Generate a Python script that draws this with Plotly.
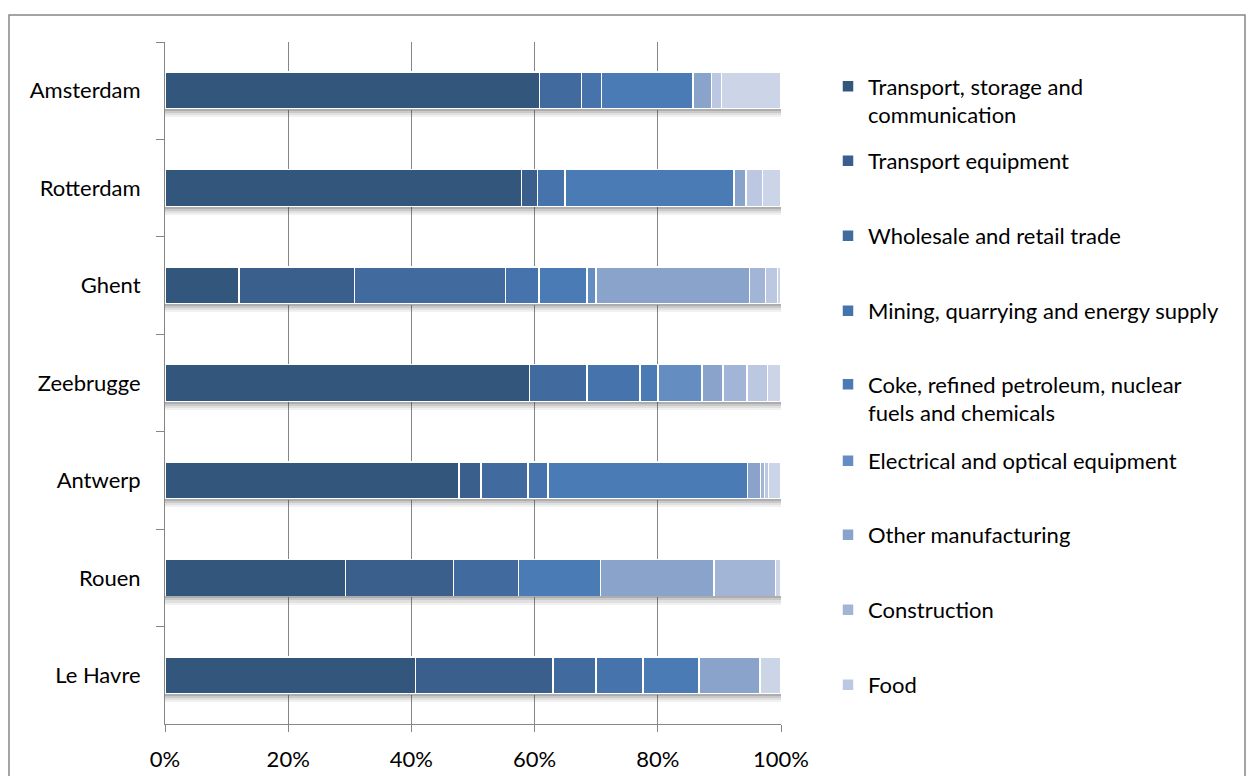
import plotly.graph_objects as go

# Ports, listed top to bottom
cities = ["Amsterdam", "Rotterdam", "Ghent", "Zeebrugge", "Antwerp", "Rouen", "Le Havre"]

# Share of each sector (%) per port, same order as cities
transport_storage = [60.8, 57.9, 12.0, 59.2, 47.7, 29.3, 40.7]
transport_equipment = [0.0, 2.6, 18.8, 0.0, 3.6, 17.5, 22.3]
wholesale_retail = [6.8, 0.0, 24.5, 9.3, 7.6, 10.6, 7.0]
mining_energy = [3.3, 4.4, 5.4, 8.6, 3.3, 0.0, 7.6]
coke_chemicals = [14.8, 27.5, 7.8, 2.9, 32.4, 13.3, 9.1]
electrical_optical = [0.0, 0.0, 1.5, 7.2, 0.0, 0.0, 0.0]
other_manufacturing = [3.0, 1.9, 24.9, 3.4, 2.1, 18.4, 9.9]
construction = [0.0, 0.0, 2.6, 3.9, 0.6, 10.0, 0.0]
food = [1.6, 2.7, 1.9, 3.3, 0.7, 0.0, 0.0]
other_sectors = [9.7, 3.0, 0.6, 2.2, 2.0, 0.9, 3.4]

series_names = [
    "Transport, storage and<br>communication",
    "Transport equipment",
    "Wholesale and retail trade",
    "Mining, quarrying and energy supply",
    "Coke, refined petroleum, nuclear<br>fuels and chemicals",
    "Electrical and optical equipment",
    "Other manufacturing",
    "Construction",
    "Food",
    "Other",
]
series_values = [
    transport_storage, transport_equipment, wholesale_retail, mining_energy,
    coke_chemicals, electrical_optical, other_manufacturing, construction,
    food, other_sectors,
]
colors = ["#33567d", "#3a5f8c", "#416b9f", "#4673ab", "#4a7bb5",
          "#648dc2", "#8aa3cb", "#a3b5d7", "#bcc8e1", "#ccd5e8"]

W, H = 1248, 776
L, R, T, B = 165, 467, 42, 52
PW, PH = W - L - R, H - T - B
BAR_W = 0.38
FONT = "Lato"
GREY = "#868686"


def px_x(px):
    return (px - L) / PW


def px_y(py):
    return (H - B - py) / PH


fig = go.Figure()

# Soft drop shadow under each bar, drawn on overlaid axes so it doesn't stack
totals = [sum(v[i] for v in series_values) for i in range(len(cities))]
shadow_alpha = [0.42, 0.28, 0.16, 0.07]
for k, a in enumerate(shadow_alpha):
    fig.add_trace(go.Bar(
        y=cities, x=totals, orientation="h", yaxis=f"y{k + 2}",
        width=0.021, offset=BAR_W / 2 + 0.021 * k,
        marker=dict(color=f"rgba(60,60,60,{a})", line=dict(width=0)),
        showlegend=False, hoverinfo="skip",
    ))

legend_mid_px = [101, 161, 236, 311, 399, 461, 535, 610, 685]

for i, (name, vals, col) in enumerate(zip(series_names, series_values, colors)):
    visible_in_legend = i < len(legend_mid_px)
    fig.add_trace(go.Bar(
        y=cities, x=vals, name=name, orientation="h", width=BAR_W,
        marker=dict(color=col, line=dict(color="white", width=1.5)),
        showlegend=visible_in_legend,
        legend=("legend" if i == 0 else f"legend{i + 1}") if visible_in_legend else None,
    ))

layout_legends = {}
for i, mid in enumerate(legend_mid_px):
    key = "legend" if i == 0 else f"legend{i + 1}"
    layout_legends[key] = dict(
        x=px_x(828), y=px_y(mid), xanchor="left", yanchor="middle",
        valign="top", bgcolor="rgba(0,0,0,0)", borderwidth=0,
        font=dict(family=FONT, size=22, color="black"),
    )

y_common = dict(type="category", categoryorder="array", categoryarray=cities,
                range=[len(cities) - 0.5, -0.5], automargin=False)

fig.update_layout(
    width=W, height=H,
    margin=dict(l=L, r=R, t=T, b=B, pad=0, autoexpand=False),
    paper_bgcolor="white", plot_bgcolor="white",
    barmode="stack",
    font=dict(family=FONT, size=22, color="black"),
    xaxis=dict(
        range=[0, 100], tickvals=[0, 20, 40, 60, 80, 100],
        ticktext=["0%", "20%", "40%", "60%", "80%", "100%"],
        showgrid=True, gridcolor=GREY, gridwidth=1,
        ticks="outside", ticklen=7, tickcolor=GREY, tickwidth=1,
        showline=True, linecolor=GREY, linewidth=1, zeroline=False,
        ticklabelstandoff=9, automargin=False,
    ),
    yaxis=dict(
        **y_common, tickson="boundaries", ticks="outside", ticklen=8,
        tickcolor=GREY, tickwidth=1, showline=True, linecolor=GREY,
        linewidth=1, showgrid=False, ticklabelstandoff=19,
    ),
    **{f"yaxis{k + 2}": dict(**y_common, overlaying="y", visible=False)
       for k in range(len(shadow_alpha))},
    **layout_legends,
    shapes=[dict(
        type="rect", xref="paper", yref="paper",
        x0=px_x(9), x1=px_x(1245), y0=px_y(800), y1=px_y(15),
        line=dict(color=GREY, width=1.5), fillcolor="rgba(0,0,0,0)", layer="below",
    )],
)

fig.write_html("out.html")
